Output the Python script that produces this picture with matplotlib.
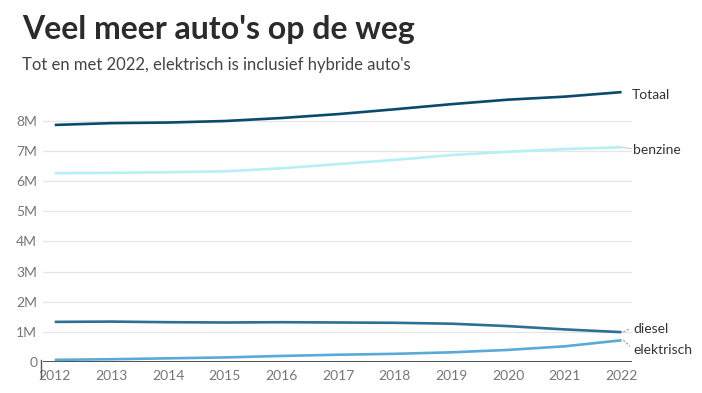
import matplotlib.pyplot as plt

years = [2012, 2013, 2014, 2015, 2016, 2017, 2018, 2019, 2020, 2021, 2022]
totaal = [7.87, 7.93, 7.95, 8.00, 8.10, 8.23, 8.39, 8.56, 8.71, 8.81, 8.96]
benzine = [6.27, 6.28, 6.30, 6.33, 6.43, 6.57, 6.71, 6.87, 6.98, 7.07, 7.13]
diesel = [1.33, 1.34, 1.32, 1.31, 1.32, 1.31, 1.30, 1.27, 1.19, 1.08, 0.99]
elektrisch = [0.07, 0.09, 0.12, 0.15, 0.20, 0.24, 0.27, 0.32, 0.40, 0.52, 0.72]

series = [
    ("Totaal", totaal, "#0b4a6b"),
    ("benzine", benzine, "#b5f0f7"),
    ("diesel", diesel, "#2e6f96"),
    ("elektrisch", elektrisch, "#5aa9d8"),
]
yticks = [0, 1, 2, 3, 4, 5, 6, 7, 8]
ytick_labels = ["0", "1M", "2M", "3M", "4M", "5M", "6M", "7M", "8M"]

plt.rcParams["font.family"] = ["Lato", "DejaVu Sans"]

fig = plt.figure(figsize=(7.02, 3.93), dpi=100)
ax = fig.add_axes([0.061, 0.079, 0.839, 0.705])

for name, values, color in series:
    ax.plot(years, values, color=color, lw=1.9, solid_capstyle="butt", zorder=3)

ax.set_xlim(2011.79, 2022.18)
ax.set_ylim(0, 9.2)
ax.set_xticks(years)
ax.set_xticklabels([str(y) for y in years])
ax.set_yticks(yticks)
ax.set_yticklabels(ytick_labels)
ax.grid(axis="y", color="#e6e6e6", lw=1)
ax.set_axisbelow(True)
for side in ["top", "right", "left", "bottom"]:
    ax.spines[side].set_visible(False)
ax.axhline(0, color="#333333", lw=1.2, zorder=2)
ax.tick_params(axis="both", length=0, labelsize=10, colors="#777777", pad=6)
ax.tick_params(axis="y", pad=4)
ax.plot([2011.76, 2011.76], [0.05, -0.5], color="#555555", lw=1, clip_on=False)

# end labels
ax.text(2022.18, totaal[-1] - 0.1, "Totaal", fontsize=10, color="#333333", va="center", ha="left")
ax.plot([2022, 2022.18], [benzine[-1], benzine[-1] - 0.05], color="#cccccc", lw=0.8, clip_on=False)
ax.text(2022.2, benzine[-1] - 0.1, "benzine", fontsize=10, color="#333333", va="center", ha="left")
ax.plot([2022.03, 2022.15], [diesel[-1], diesel[-1] + 0.12], color="#999999", lw=0.8, ls=(0, (2, 1.5)),
        clip_on=False)
ax.text(2022.2, diesel[-1] + 0.1, "diesel", fontsize=10, color="#333333", va="center", ha="left")
ax.plot([2022.03, 2022.15], [elektrisch[-1], elektrisch[-1] - 0.2], color="#999999", lw=0.8,
        ls=(0, (2, 1.5)), clip_on=False)
ax.text(2022.2, elektrisch[-1] - 0.31, "elektrisch", fontsize=10, color="#333333", va="center", ha="left")

fig.text(0.031, 0.902, "Veel meer auto's op de weg", fontsize=23, fontweight="bold", color="#2b2b2b")
fig.text(0.031, 0.822, "Tot en met 2022, elektrisch is inclusief hybride auto's", fontsize=12,
         color="#444444")

fig.savefig("out.png", dpi=100)
